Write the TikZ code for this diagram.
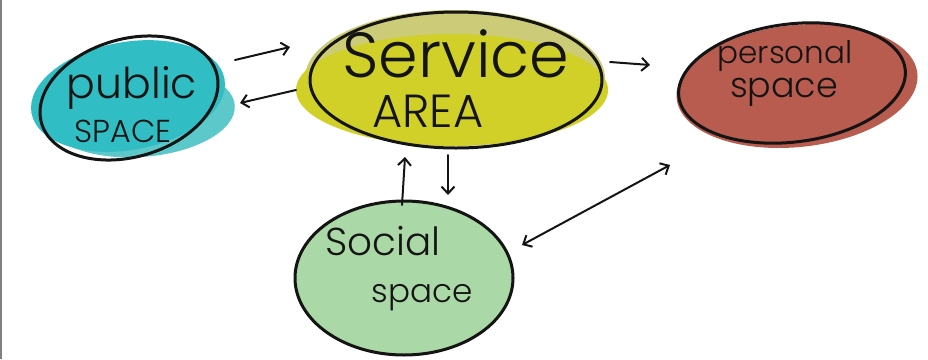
\documentclass[tikz,border=0pt]{standalone}
\usepackage{fontspec}
\setmainfont{Poppins Light}
\usetikzlibrary{shapes.geometric,arrows.meta}
\definecolor{pubfill}{RGB}{48,190,196}
\definecolor{pubfill2}{RGB}{92,200,202}
\definecolor{svcfill}{RGB}{208,208,40}
\definecolor{svcedge}{RGB}{204,204,120}
\definecolor{perfill}{RGB}{184,92,80}
\definecolor{socfill}{RGB}{170,216,166}
\definecolor{ink}{RGB}{20,20,20}
\begin{document}
\begin{tikzpicture}[x=1pt,y=-1pt,
  outl/.style={ellipse, draw=ink, line width=3pt, inner sep=0pt},
  conn/.style={draw=ink, line width=2pt, line cap=round, -{Straight Barb[length=7pt,width=13pt,line width=2pt]}},
  dconn/.style={draw=ink, line width=2pt, line cap=round, {Straight Barb[length=7pt,width=13pt,line width=2pt]}-{Straight Barb[length=7pt,width=13pt,line width=2pt]}},
  lbl/.style={inner sep=0pt, text=ink}]
\useasboundingbox (0,0) rectangle (928,359);
\draw[gray, line width=2pt] (1,0) -- (1,359);
% colour washes
\fill[pubfill2, rotate around={4:(140,112)}] (140,112) ellipse [x radius=95pt, y radius=45pt];
\fill[pubfill, rotate around={10:(128,96)}] (128,96) ellipse [x radius=98pt, y radius=54pt];
\fill[svcedge] (455,78) ellipse [x radius=150pt, y radius=68pt];
\fill[svcfill] (452,90) ellipse [x radius=156pt, y radius=56pt];
\fill[perfill, rotate around={6:(797,86)}] (797,86) ellipse [x radius=121pt, y radius=61pt];
\fill[socfill] (404,278) ellipse [x radius=110pt, y radius=78pt];
% outlines
\node[outl, minimum width=182pt, minimum height=118pt, rotate=16] (pub) at (129,98) {};
\node[outl, minimum width=292pt, minimum height=136pt] (svc) at (456,80) {};
\node[outl, minimum width=228pt, minimum height=118pt, rotate=7] (per) at (792,83) {};
\node[outl, minimum width=218pt, minimum height=154pt] (soc) at (404,278) {};
% labels
\node[lbl] (tpub1) at (132,88) {\resizebox{130pt}{!}{public}};
\node[lbl] (tpub2) at (123,131) {\resizebox{97pt}{!}{SPACE}};
\node[lbl] (tsvc1) at (456,54) {\resizebox{227pt}{!}{Service}};
\node[lbl] (tsvc2) at (428,111) {\resizebox{111pt}{!}{AREA}};
\node[lbl] (tper1) at (785,56) {\resizebox{135pt}{!}{personal}};
\node[lbl] (tper2) at (784,92) {\resizebox{108pt}{!}{space}};
\node[lbl] (tsoc1) at (383,241) {\resizebox{115pt}{!}{Social}};
\node[lbl] (tsoc2) at (422,298) {\resizebox{101pt}{!}{space}};
% connector ends
\coordinate (a1s) at (235,60);  \coordinate (a1e) at (290,47);
\coordinate (a2s) at (296,90);  \coordinate (a2e) at (240,103);
\coordinate (a3s) at (610,62);  \coordinate (a3e) at (650,65);
\coordinate (a4s) at (402,205); \coordinate (a4e) at (405,157);
\coordinate (a5s) at (448,155); \coordinate (a5e) at (448,195);
\coordinate (a6s) at (522,245); \coordinate (a6e) at (670,165);
\draw[conn] (a1s) -- (a1e);
\draw[conn] (a2s) -- (a2e);
\draw[conn] (a3s) -- (a3e);
\draw[conn] (a4s) -- (a4e);
\draw[conn] (a5s) -- (a5e);
\draw[dconn] (a6s) -- (a6e);
\end{tikzpicture}
\end{document}
